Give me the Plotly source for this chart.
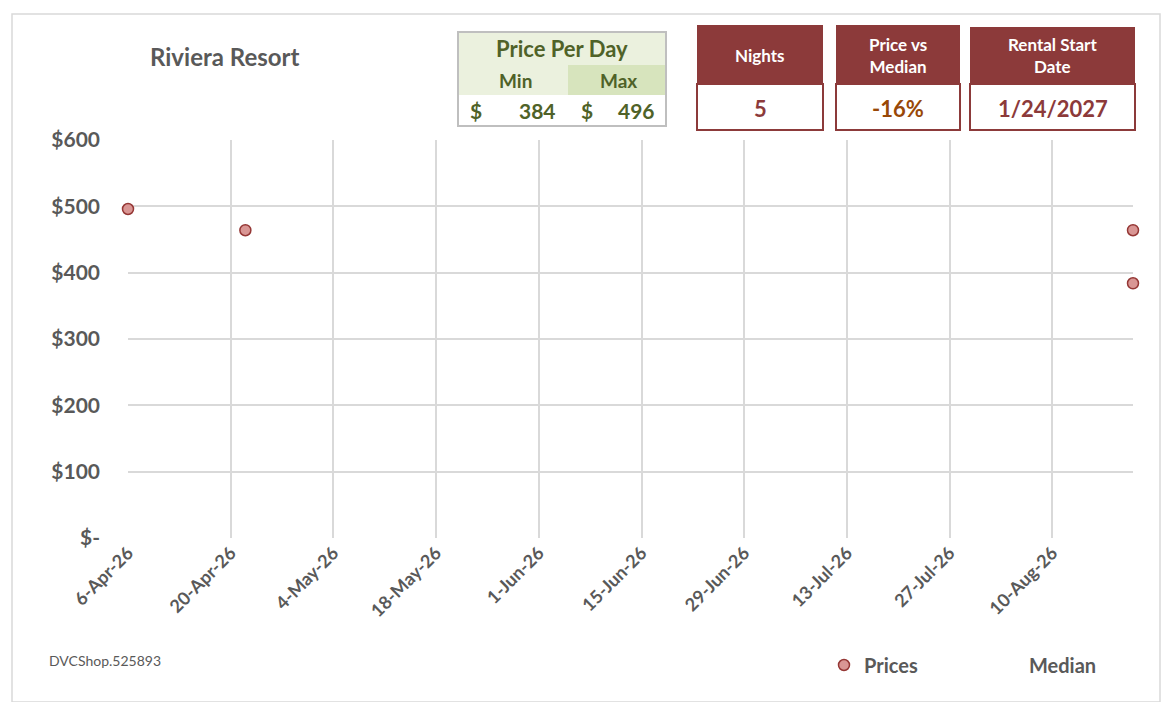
import plotly.graph_objects as go

# chart data
price_dates = ["2026-04-06", "2026-04-22", "2026-08-21", "2026-08-21"]
price_values = [496, 464, 464, 384]
median_dates = ["2026-04-06", "2026-08-21"]
median_values = [None, None]

tick_dates = ["2026-04-06", "2026-04-20", "2026-05-04", "2026-05-18", "2026-06-01",
              "2026-06-15", "2026-06-29", "2026-07-13", "2026-07-27", "2026-08-10"]
y_ticks = [0, 100, 200, 300, 400, 500, 600]
y_labels = ["$-", "$100", "$200", "$300", "$400", "$500", "$600"]

# header panel values
min_price = 384
max_price = 496
nights = 5
price_vs_median = "-16%"
rental_start = "1/24/2027"

# page body adds an 8px margin, so the figure is drawn 8px smaller each way
OFF = 8
W, H = 1172 - 2 * OFF, 710 - 2 * OFF
L, R, T, B = 128, 1133, 140, 538

def px(x):
    return (x - L) / (R - L)

def py(y):
    return (B - y) / (B - T)

GREY = "#595959"
RED = "#8C3A3A"
GREEN_TXT = "#4F6228"
FONT = "Lato"

fig = go.Figure()
fig.add_trace(go.Scatter(
    x=price_dates, y=price_values, mode="markers", name="Prices",
    cliponaxis=False,
    marker=dict(size=11, color="#D99694", line=dict(color="#953735", width=1.5)),
))
fig.add_trace(go.Scatter(
    x=median_dates, y=median_values, mode="lines", name="Median",
    line=dict(color="rgba(0,0,0,0)", width=2),
))

shapes = []
annotations = []

def rect(x0, y0, x1, y1, fill="rgba(0,0,0,0)", line="rgba(0,0,0,0)", lw=0):
    shapes.append(dict(type="rect", xref="paper", yref="paper",
                       x0=px(x0), x1=px(x1), y0=py(y1), y1=py(y0),
                       fillcolor=fill, line=dict(color=line, width=lw), layer="above"))

def text(x, y, s, size, color, bold=True, anchor="center"):
    annotations.append(dict(xref="paper", yref="paper", x=px(x), y=py(y),
                            text="<b>%s</b>" % s if bold else s, showarrow=False,
                            xanchor=anchor, yanchor="middle",
                            font=dict(family=FONT, size=size, color=color)))

# outer border
rect(12, 14, 1160, 702, line="#D9D9D9", lw=1.5)

# title
text(148, 57, "Riviera Resort", 24, GREY, anchor="left")

# price per day box
rect(458, 32, 666, 95, fill="#EBF1DE")
rect(568, 65, 666, 95, fill="#D7E4BD")
rect(458, 95, 666, 126, fill="white")
rect(458, 32, 666, 126, line="#BFBFBF", lw=2)
text(562, 48, "Price Per Day", 22, GREEN_TXT)
text(515, 80, "Min", 19, GREEN_TXT)
text(618, 80, "Max", 19, GREEN_TXT)
text(468, 110, "$", 21, GREEN_TXT, anchor="left")
text(558, 110, str(min_price), 21, GREEN_TXT, anchor="right")
text(579, 110, "$", 21, GREEN_TXT, anchor="left")
text(657, 110, str(max_price), 21, GREEN_TXT, anchor="right")

# stat boxes
boxes = [
    (697, 823, 25, "Nights", str(nights), RED),
    (836, 960, 25, "Price vs<br>Median", price_vs_median, "#984807"),
    (970, 1135, 27, "Rental Start<br>Date", rental_start, RED),
]
for x0, x1, top, head, val, col in boxes:
    rect(x0, top, x1, 84, fill=RED)
    rect(x0, 84, x1, 130, fill="white", line=RED, lw=2)
    text((x0 + x1) / 2, 55, head, 17, "white")
    text((x0 + x1) / 2, 108, val, 22, col)

# footer
text(47, 660, "DVCShop.525893", 14, GREY, bold=False, anchor="left")

fig.update_layout(
    width=W, height=H,
    margin=dict(l=L - OFF, r=1172 - OFF - R, t=T - OFF, b=710 - OFF - B, autoexpand=False),
    paper_bgcolor="white", plot_bgcolor="white",
    font=dict(family=FONT, color=GREY),
    shapes=shapes, annotations=annotations,
    showlegend=True,
    legend=dict(orientation="h", x=px(824), y=py(665), xanchor="left", yanchor="middle",
                entrywidth=120, entrywidthmode="pixels",
                font=dict(family=FONT, size=20, color=GREY, weight="bold")),
    xaxis=dict(
        type="date", range=["2026-04-06", "2026-08-21"],
        tickvals=tick_dates, tickformat="%-d-%b-%y", tickangle=-45,
        showgrid=True, gridcolor="#D9D9D9", gridwidth=1.5,
        zeroline=False, showline=False, ticks="",
        tickfont=dict(family=FONT, size=18, color=GREY, weight="bold"),
    ),
    yaxis=dict(
        range=[0, 600], tickvals=y_ticks, ticktext=y_labels,
        showgrid=True, gridcolor="#D9D9D9", gridwidth=1.5,
        zeroline=False, showline=False, ticks="", ticklabelstandoff=27,
        tickfont=dict(family=FONT, size=21, color=GREY, weight="bold"),
    ),
)

fig.write_html("out.html")
